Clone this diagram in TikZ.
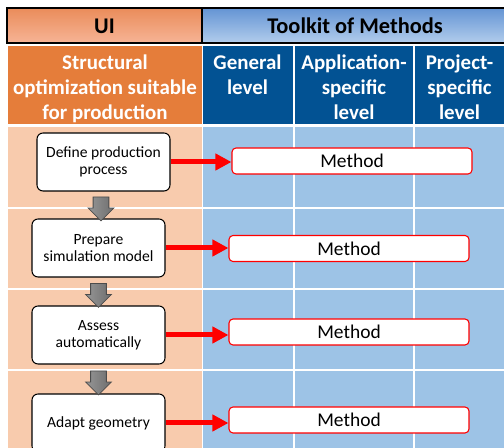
\documentclass[tikz,border=0pt]{standalone}
\usepackage{fontspec}
\setmainfont{Carlito}
\usetikzlibrary{shapes.arrows,arrows.meta}

\definecolor{uiorange}{RGB}{229,125,58}
\definecolor{uisalmon}{RGB}{248,203,173}
\definecolor{tkblue}{RGB}{2,82,147}
\definecolor{tklight}{RGB}{157,195,230}
\definecolor{hdsalmontop}{RGB}{234,140,90}
\definecolor{hdsalmonbot}{RGB}{246,180,150}
\definecolor{hdbluetop}{RGB}{100,148,212}
\definecolor{hdbluebot}{RGB}{178,205,236}
\definecolor{arrowlight}{RGB}{150,150,150}
\definecolor{arrowdark}{RGB}{110,110,110}

\begin{document}
\begin{tikzpicture}[x=0.75pt,y=-0.75pt,
  hdtext/.style={font=\fontsize{16.8}{20}\selectfont\bfseries, inner sep=0pt},
  coltext/.style={font=\fontsize{15.7}{18.5}\selectfont\bfseries, text=white, align=center, inner sep=0pt, anchor=north},
  stepbox/.style={draw=black, line width=0.8pt, fill=white, rounded corners=4.5pt,
    minimum width=99.75pt, minimum height=43.5pt, align=center,
    font=\fontsize{11.7}{12.5}\selectfont, inner sep=0pt},
  methodbox/.style={draw=red, line width=0.8pt, fill=white, rounded corners=3pt,
    minimum width=180pt, minimum height=19.5pt,
    font=\fontsize{14.6}{16}\selectfont, inner sep=0pt},
  toarrow/.style={draw=red, line width=3.75pt, -{Triangle[length=12pt,width=12pt]}},
  flowarrow/.style={single arrow, draw=black!70, line width=0.6pt,
    left color=arrowlight, right color=arrowdark, rotate=-90,
    minimum height=18pt, inner xsep=0pt, inner ysep=5.6pt,
    single arrow head extend=3.75pt, single arrow tip angle=90},
]
\useasboundingbox (0,0) rectangle (504,448);
\fill[white] (0,0) rectangle (504,448);

% header row
\fill[top color=hdsalmontop, bottom color=hdsalmonbot] (7,8) rectangle (202,43);
\fill[top color=hdbluetop, bottom color=hdbluebot] (202,8) rectangle (506,43);
\draw[line width=1.6pt] (506,8) -- (7,8) -- (7,43) -- (506,43);
\draw[line width=1.6pt] (202,8) -- (202,43);

% column titles
\fill[uiorange] (8,46) rectangle (201.5,124.5);
\fill[tkblue] (203,46) rectangle (292.5,124.5);
\fill[tkblue] (294.5,46) rectangle (413,124.5);
\fill[tkblue] (415,46) rectangle (504,124.5);

% body cells
\foreach \ya/\yb in {127/207.5, 209/288.5, 290/369.5, 371/448} {
  \fill[uisalmon] (8,\ya) rectangle (201.5,\yb);
  \fill[tklight] (203,\ya) rectangle (292.5,\yb);
  \fill[tklight] (294.5,\ya) rectangle (413,\yb);
  \fill[tklight] (415,\ya) rectangle (504,\yb);
}

% header texts
\node[hdtext] (ui) at (104.5,26) {UI};
\node[hdtext] (tk) at (355,26) {Toolkit of Methods};

\node[coltext] (so) at (105,55) {Structural\\optimization suitable\\for production};
\node[coltext] (gl) at (247.5,55) {General\\level};
\node[coltext] (al) at (354,55) {Application-\\specific\\level};
\node[coltext] (pl) at (459.5,55) {Project-\\specific\\level};

% process steps
\node[stepbox] (b1) at (103.5,162) {Define production\\process};
\node[stepbox] (b2) at (98.5,248) {Prepare\\simulation model};
\node[stepbox] (b3) at (98.5,335) {Assess\\automatically};
\node[stepbox] (b4) at (98.5,423) {Adapt geometry};

% methods
\node[methodbox] (m1) at (352,161) {Method};
\node[methodbox] (m2) at (349,248.5) {Method};
\node[methodbox] (m3) at (349,332) {Method};
\node[methodbox] (m4) at (349,420) {Method};

% flow between steps
\path (b1.south) -- (b2.north) node[midway, flowarrow] (f1) {};
\path (b2.south) -- (b3.north) node[midway, flowarrow] (f2) {};
\path (b3.south) -- (b4.north) node[midway, flowarrow] (f3) {};

% links from steps to methods
\draw[toarrow] (b1.east) -- (b1.east -| m1.west);
\draw[toarrow] (b2.east) -- (b2.east -| m2.west);
\draw[toarrow] (b3.east) -- (b3.east -| m3.west);
\draw[toarrow] (b4.east) -- (b4.east -| m4.west);
\end{tikzpicture}
\end{document}
